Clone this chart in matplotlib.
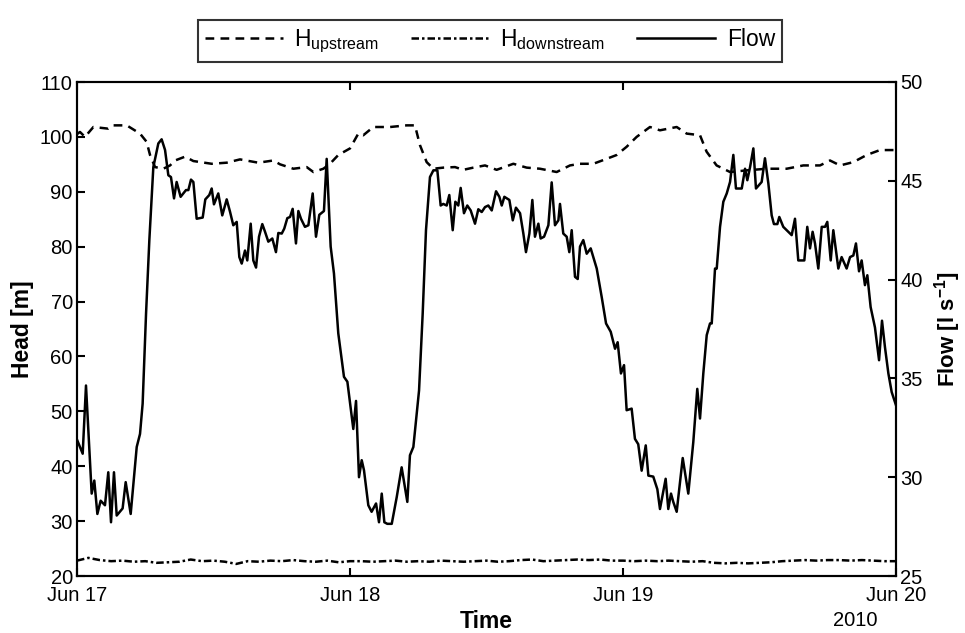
import numpy as np
import matplotlib
matplotlib.use("Agg")
import matplotlib.pyplot as plt

plt.rcParams['font.family'] = ['Liberation Sans', 'DejaVu Sans']
plt.rcParams['mathtext.fontset'] = 'custom'
plt.rcParams['mathtext.rm'] = 'Liberation Sans'
plt.rcParams['mathtext.bf'] = 'Liberation Sans:bold'

# ---- data (hours since Jun 17 00:00) ----
flow_hours = [0.0, 0.50, 0.79, 1.29, 1.52, 1.79, 2.08, 2.46, 2.75, 2.99, 3.25, 3.49, 4.01, 4.28, 4.72,
              5.25, 5.54, 5.77, 6.07, 6.36, 6.71, 7.15, 7.44, 7.74, 8.03, 8.26, 8.53, 8.76, 9.11, 9.58,
              9.79, 10.02, 10.23, 10.52, 11.05, 11.28, 11.63, 11.84, 12.04, 12.42, 12.77, 13.16, 13.45,
              13.74, 14.04, 14.27, 14.48, 14.77, 14.97, 15.27, 15.50, 15.74, 16.0, 16.29, 16.53, 16.82,
              17.17, 17.49, 17.70, 18.0, 18.22, 18.49, 18.73, 18.96, 19.25, 19.46, 19.69, 20.04, 20.34,
              20.72, 21.01, 21.30, 21.71, 21.95, 22.30, 22.59, 22.97, 23.47, 23.77, 24.29, 24.53, 24.79,
              25.03, 25.23, 25.61, 25.9, 26.29, 26.55, 26.79, 27.02, 27.28, 27.67, 28.11, 28.54, 29.04,
              29.27, 29.57, 30.07, 30.39, 30.68, 31.03, 31.33, 31.68, 31.97, 32.2, 32.5, 32.73, 33.03,
              33.26, 33.52, 33.73, 34.02, 34.31, 34.61, 34.99, 35.28, 35.58, 35.87, 36.16, 36.46, 36.84,
              37.13, 37.34, 37.57, 38.01, 38.31, 38.59, 38.95, 39.24, 39.47, 39.77, 40.03, 40.26, 40.56,
              40.76, 41.06, 41.44, 41.73, 42.02, 42.32, 42.46, 42.75, 43.05, 43.28, 43.49, 43.78, 44.02,
              44.22, 44.51, 44.81, 45.16, 45.69, 46.13, 46.51, 46.92, 47.30, 47.53, 47.82, 48.09, 48.32,
              48.76, 49.05, 49.34, 49.64, 50.0, 50.23, 50.66, 51.02, 51.25, 51.75, 51.98, 52.22, 52.42,
              52.72, 53.25, 53.74, 54.18, 54.53, 54.77, 55.06, 55.36, 55.65, 55.80, 56.09, 56.24, 56.53,
              56.82, 57.12, 57.41, 57.70, 57.93, 58.44, 58.73, 58.93, 59.17, 59.46, 59.69, 60.19, 60.48,
              60.78, 61.07, 61.27, 61.57, 61.74, 62.09, 62.39, 62.83, 63.12, 63.41, 63.94, 64.20, 64.44,
              64.67, 64.88, 65.17, 65.47, 65.76, 65.96, 66.26, 66.49, 66.93, 67.22, 67.66, 67.96, 68.25,
              68.48, 68.75, 68.98, 69.27, 69.48, 69.77, 70.15, 70.51, 70.77, 71.03, 71.33, 71.62, 72.0]
flow_values = [31.9, 31.19, 34.64, 29.17, 29.83, 28.14, 28.81, 28.58, 30.25, 27.72, 30.25, 28.06, 28.42, 29.75, 28.14,
               31.53, 32.19, 33.72, 38.28, 42.0, 45.69, 46.89, 47.1, 46.56, 45.28, 45.19, 44.11, 44.94, 44.19, 44.53,
               44.53, 45.06, 44.94, 43.08, 43.14, 44.06, 44.28, 44.61, 43.81, 44.36, 43.25, 44.06, 43.44,
               42.75, 42.92, 41.14, 40.81, 41.47, 40.97, 42.83, 40.97, 40.61, 42.17, 42.81, 42.42, 41.92,
               42.08, 41.39, 42.36, 42.33, 42.58, 43.11, 43.17, 43.58, 41.83, 43.47, 43.08, 42.67, 42.75,
               44.36, 42.17, 43.28, 43.47, 46.11, 41.67, 40.31, 37.28, 35.08, 34.83, 32.44, 33.86, 30.0,
               30.86, 30.35, 28.58, 28.25, 28.67, 27.72, 29.17, 27.72, 27.64, 27.64, 29.0, 30.5, 28.75,
               31.11, 31.53, 34.39, 38.28, 42.5, 45.19, 45.53, 45.53, 43.75, 43.83, 43.75, 44.28, 42.5,
               43.94, 43.75, 44.64, 43.36, 43.75, 43.5, 42.83, 43.56, 43.42, 43.67, 43.75, 43.5, 44.47,
               44.19, 43.75, 44.19, 44.03, 43.0, 43.64, 43.36, 42.33, 41.39, 42.33, 44.03, 42.17, 42.83,
               42.08, 42.17, 42.75, 44.92, 42.75, 43.0, 43.83, 42.33, 42.17, 41.39, 42.5, 40.14, 40.03,
               41.67, 42.0, 41.31, 41.58, 40.56, 39.11, 37.78, 37.36, 36.5, 36.83, 35.25, 35.67, 33.39,
               33.47, 31.94, 31.67, 30.33, 31.61, 30.08, 30.03, 29.39, 28.39, 29.92, 28.39, 29.17, 28.75,
               28.25, 30.97, 29.17, 31.78, 34.47, 32.97, 35.25, 37.19, 37.78, 37.78, 40.56, 40.56, 42.67,
               43.94, 44.36, 44.94, 46.31, 44.61, 44.61, 45.61, 45.03, 45.69, 46.64, 44.61, 44.94, 46.14,
               44.86, 43.25, 42.81, 42.81, 43.17, 42.67, 42.5, 42.25, 43.08, 40.97, 40.97, 42.67, 41.58,
               42.42, 41.83, 40.56, 42.67, 42.67, 42.92, 40.97, 42.5, 40.56, 41.14, 40.56, 41.14, 41.22,
               41.83, 40.42, 40.97, 39.72, 40.22, 38.61, 37.58, 35.92, 37.92, 36.58, 35.25, 34.31, 33.64]

up_hours = [0.0, 0.26, 0.70, 1.44, 2.75, 3.19, 4.37, 5.54, 6.12, 6.42, 6.86, 7.59, 8.18, 8.62, 9.5, 10.23,
            11.84, 13.16, 14.33, 15.94, 17.26, 17.85, 19.02, 20.19, 20.78, 21.66, 22.24, 22.97, 24.0, 24.73,
            25.17, 26.05, 27.52, 28.98, 29.71, 30.15, 30.74, 31.33, 32.21, 33.23, 33.96, 34.84, 35.87, 36.89,
            38.36, 39.53, 40.70, 42.17, 43.34, 44.22, 45.39, 46.56, 47.44, 48.32, 49.2, 50.37, 51.25, 52.72,
            53.6, 54.77, 55.35, 56.23, 57.41, 58.87, 60.63, 62.39, 63.85, 65.32, 66.2, 67.08, 68.25, 69.42,
            70.59, 72.0]
up_values = [100.5, 100.9, 100.0, 101.8, 101.5, 102.1, 102.1, 100.6, 99.1, 96.7, 94.5, 94.2, 94.8, 95.7, 96.4, 95.6,
             95.1, 95.3, 95.9, 95.3, 95.7, 95.0, 94.2, 94.5, 93.6, 94.2, 95.1, 96.7, 97.9, 100.6,
             100.3, 101.8, 101.8, 102.1, 102.1, 98.5, 95.4, 94.2, 94.4, 94.5, 94.0, 94.4, 94.8, 94.0,
             95.1, 94.4, 94.2, 93.6, 94.8, 95.1, 95.1, 96.0, 96.7, 98.2, 100.0, 101.8, 101.2, 101.8,
             100.6, 100.3, 97.3, 94.8, 93.6, 93.9, 94.2, 94.2, 94.8, 94.8, 95.7, 94.8, 95.4, 96.7,
             97.6, 97.6]

down_values = [22.8, 23.3, 22.9, 22.7, 22.8, 22.6, 22.7, 22.4, 22.5, 22.6, 23.0, 22.7, 22.8, 22.6, 22.2,
               22.7, 22.6, 22.8, 22.7, 22.9, 22.7, 22.6, 22.8, 22.5, 22.7, 22.7, 22.6, 22.7, 22.8, 22.6,
               22.7, 22.6, 22.8, 22.7, 22.6, 22.7, 22.8, 22.6, 22.7, 22.9, 23.0, 22.7, 22.8, 22.9, 23.0,
               22.9, 23.0, 22.8, 22.8, 22.7, 22.8, 22.7, 22.8, 22.7, 22.6, 22.7, 22.4, 22.3, 22.4, 22.3,
               22.4, 22.5, 22.7, 22.8, 22.9, 22.8, 22.9, 22.9, 22.8, 22.9, 22.8, 22.7, 22.7]
down_hours = list(range(len(down_values)))

xtick_hours = [0, 24, 48, 72]
xtick_labels = ['Jun 17', 'Jun 18', 'Jun 19', 'Jun 20']
head_ticks = [20, 30, 40, 50, 60, 70, 80, 90, 100, 110]
flow_ticks = [25, 30, 35, 40, 45, 50]

# ---- figure ----
fig = plt.figure(figsize=(9.65, 6.33), dpi=100)
ax = fig.add_axes([77/965, 57/633, 819/965, 494/633])
ax2 = ax.twinx()

lw = 1.8
l1, = ax.plot(up_hours, up_values, color='black', lw=lw, dashes=[3.5, 2.5],
              label=r'H$_{\mathregular{upstream}}$')
l2, = ax.plot(down_hours, down_values, color='black', lw=lw, dashes=[3, 1.2, 1, 1.2],
              label=r'H$_{\mathregular{downstream}}$')
l3, = ax2.plot(flow_hours, flow_values, color='black', lw=lw, label='Flow')

ax.set_xlim(0, 72)
ax.set_ylim(20, 110)
ax2.set_ylim(25, 50)
ax.set_xticks(xtick_hours)
ax.set_xticklabels(xtick_labels)
ax.set_yticks(head_ticks)
ax2.set_yticks(flow_ticks)

for a in (ax, ax2):
    for s in a.spines.values():
        s.set_linewidth(1.5)
ax.tick_params(axis='x', direction='in', top=True, length=6, width=1.5, labelsize=14.5, pad=7)
ax.tick_params(axis='y', direction='in', right=False, length=6, width=1.5, labelsize=14.5, pad=3)
ax2.tick_params(axis='y', direction='in', length=6, width=1.5, labelsize=14.5, pad=3)

ax.set_xlabel('Time', fontsize=16.5, fontweight='bold')
ax.xaxis.label.set(va='center')
ax.xaxis.set_label_coords(0.5, -0.093)
ax.set_ylabel('Head [m]', fontsize=16.5, fontweight='bold')
ax.yaxis.label.set(va='center')
ax.yaxis.set_label_coords(-0.067, 0.5)
ax2.set_ylabel(r'Flow [l s$^{\mathbf{-1}}$]', fontsize=16, fontweight='bold')
ax2.yaxis.label.set(va='center')
ax2.yaxis.set_label_coords(1.063, 0.5)

fig.text(855/965, 1 - 621/633, '2010', ha='center', va='center', fontsize=14.5)

leg = fig.legend(handles=[l1, l2, l3], loc='center', bbox_to_anchor=(490/965, 1 - 41/633),
                 ncol=3, fontsize=16.5, frameon=True, fancybox=False, edgecolor='black',
                 handlelength=3.4, columnspacing=1.4, handletextpad=0.5, borderpad=0.32,
                 borderaxespad=0)
leg.get_frame().set_linewidth(1.5)

fig.savefig('out.png', dpi=100)
